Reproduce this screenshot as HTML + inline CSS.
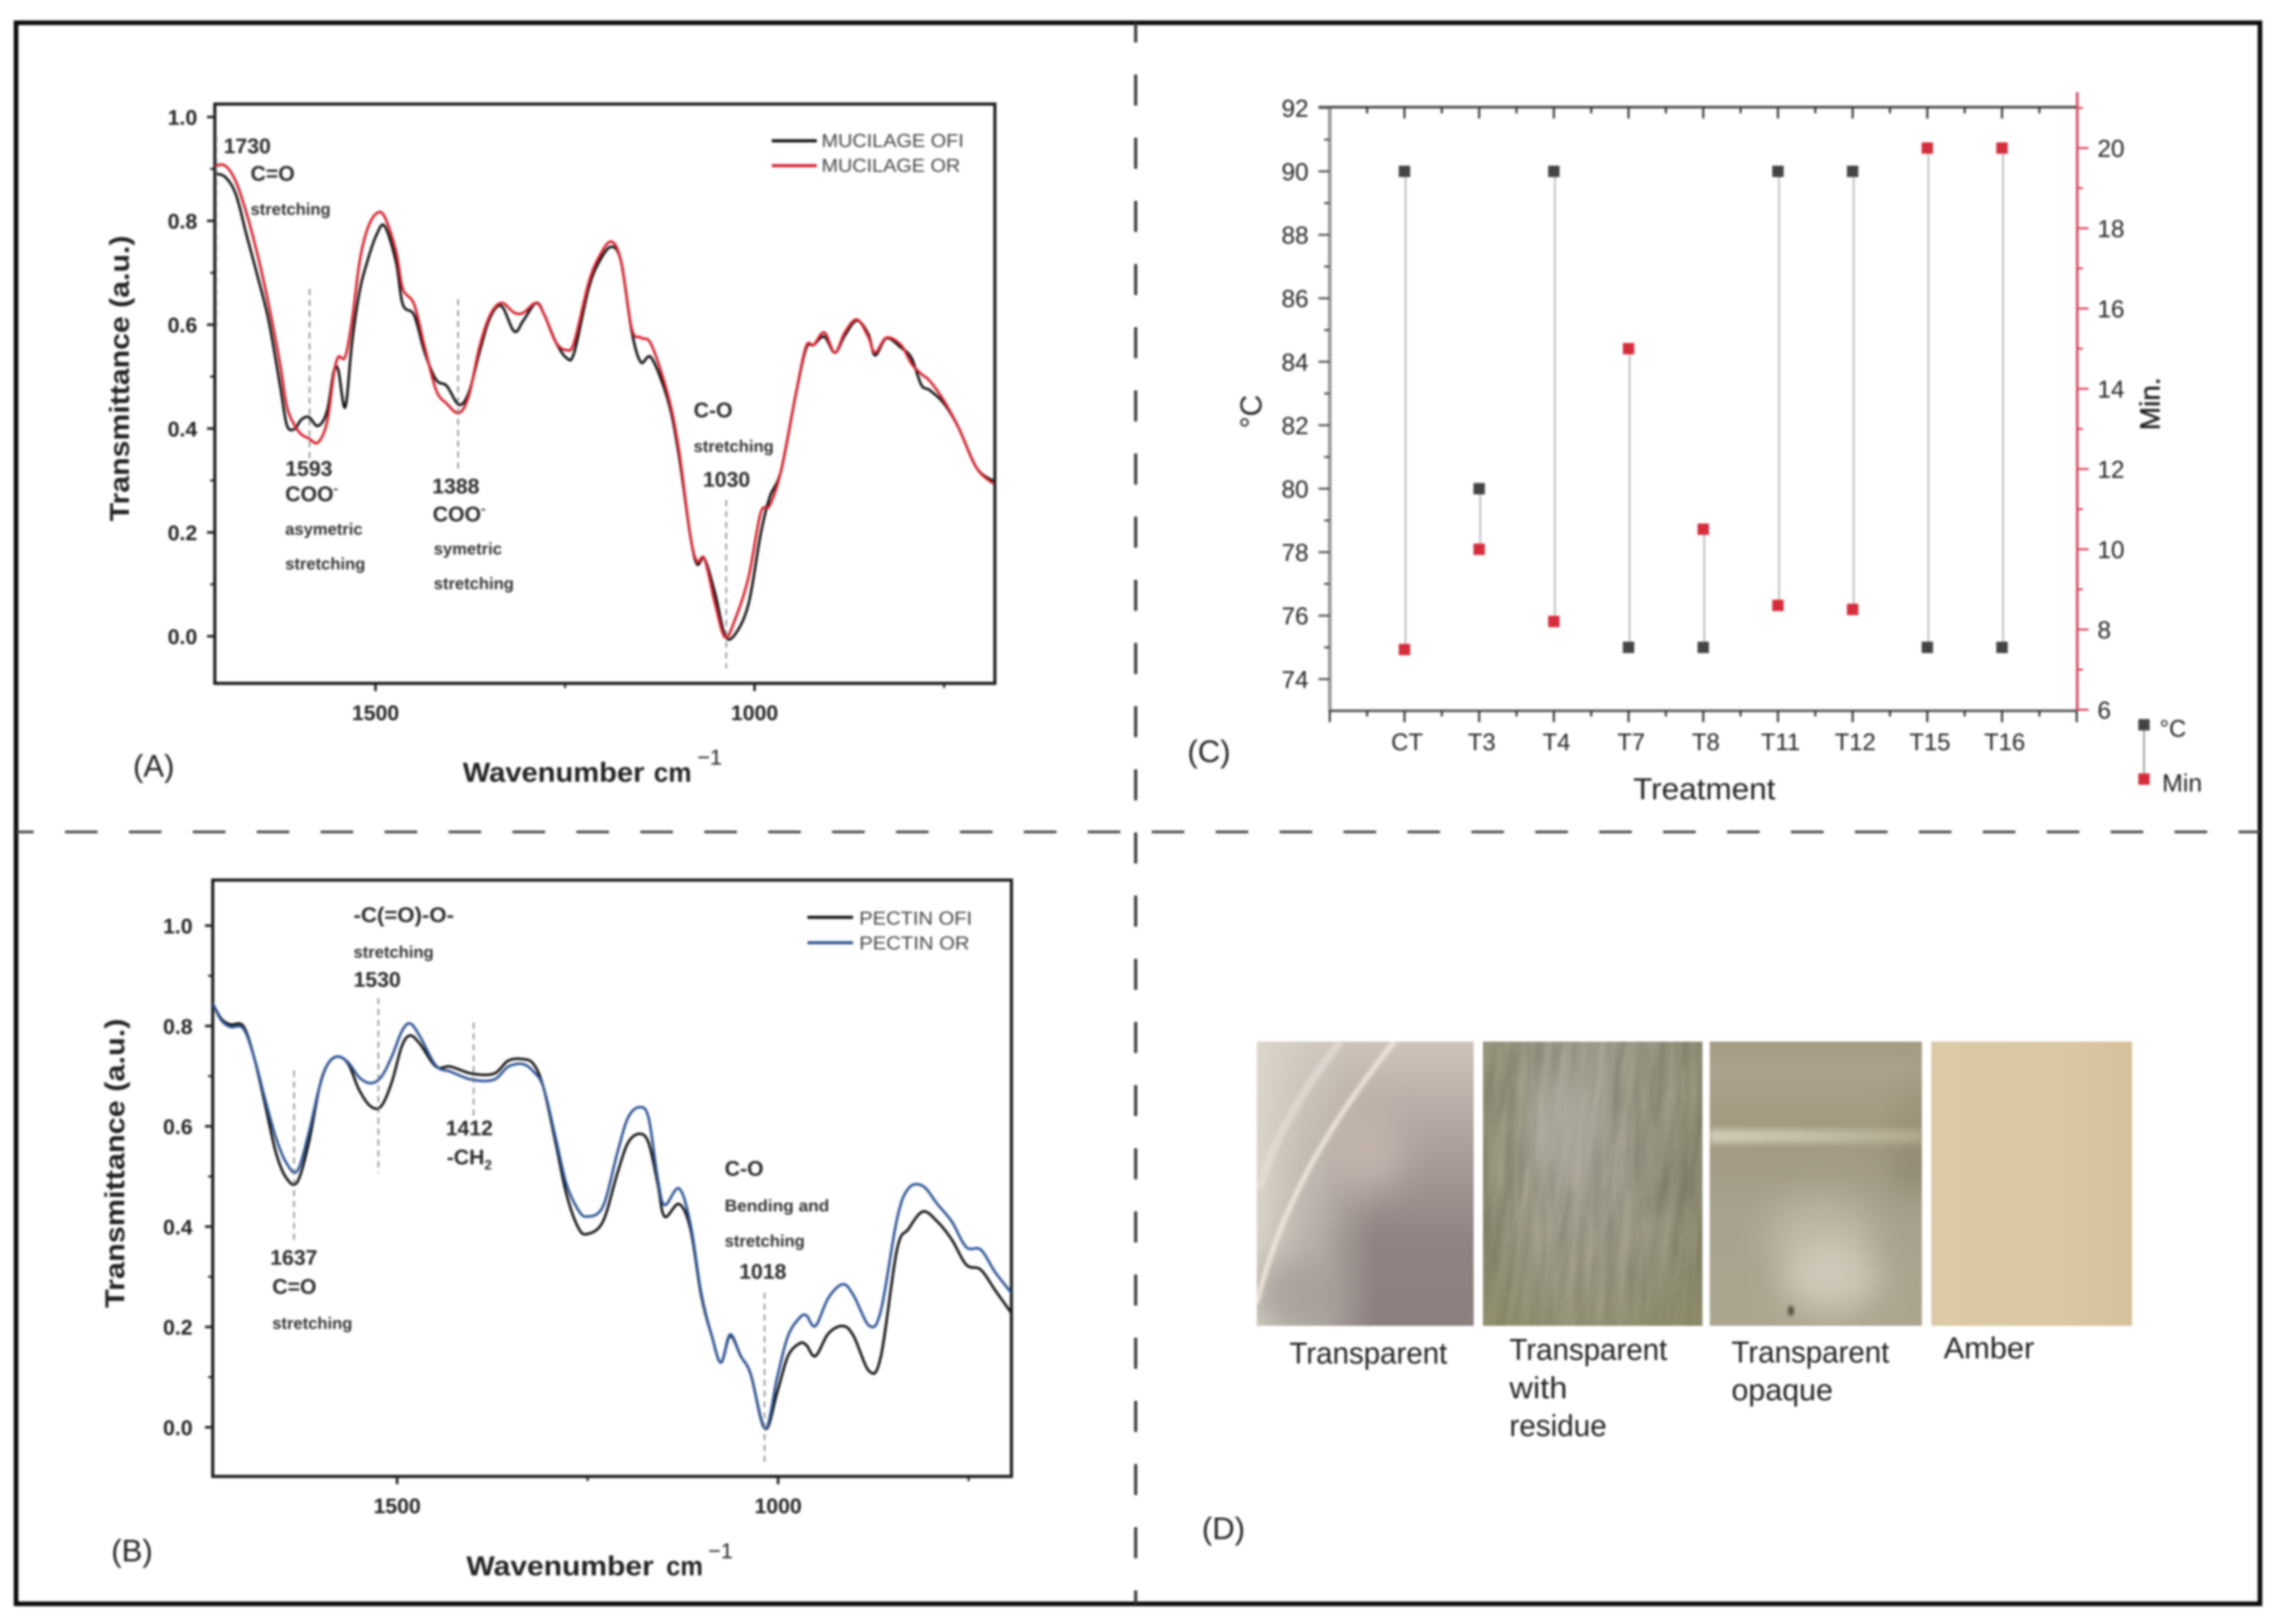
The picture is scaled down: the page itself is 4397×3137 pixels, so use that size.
<!DOCTYPE html>
<html lang="en">
<head>
<meta charset="utf-8">
<title>FTIR spectra, treatment conditions and film appearance</title>
<style>
html,body{margin:0;padding:0;background:#fff;}
body{width:4397px;height:3137px;overflow:hidden;}
svg{display:block;filter:blur(2px);}
text{font-family:"Liberation Sans",sans-serif;fill:#222;}
.ann{font-weight:bold;font-size:41px;fill:#2a2a2a;}
.small{font-weight:bold;font-size:32px;fill:#333;}
.title{font-weight:bold;font-size:53px;fill:#222;}
.leg{font-size:36px;fill:#444;}
.plabel{font-size:60px;fill:#222;}
.ptext{font-size:58px;fill:#222;}
</style>
</head>
<body>
<svg id="fig" xmlns="http://www.w3.org/2000/svg" width="4397" height="3137" viewBox="0 0 4397 3137">
<defs>
<linearGradient id="g1" x1="0" y1="0" x2="0" y2="1">
<stop offset="0" stop-color="#cfc4ba"/><stop offset=".35" stop-color="#aea29d"/><stop offset=".7" stop-color="#8f8481"/><stop offset="1" stop-color="#8c807e"/>
</linearGradient>
<linearGradient id="g1b" x1="0" y1="0" x2="1" y2="0">
<stop offset="0" stop-color="#dcd7cb" stop-opacity=".95"/><stop offset=".3" stop-color="#d0cac0" stop-opacity=".55"/><stop offset=".55" stop-color="#c0b6ae" stop-opacity="0"/>
</linearGradient>
<linearGradient id="g2" x1="0" y1="0" x2="1" y2="0">
<stop offset="0" stop-color="#8a8a6f"/><stop offset=".3" stop-color="#a3a093"/><stop offset=".6" stop-color="#a09d90"/><stop offset="1" stop-color="#87876c"/>
</linearGradient>
<linearGradient id="g2b" x1="0" y1="0" x2="0" y2="1">
<stop offset="0" stop-color="#8e8c78" stop-opacity=".2"/><stop offset=".5" stop-color="#8e8c78" stop-opacity="0"/><stop offset="1" stop-color="#87875f" stop-opacity=".55"/>
</linearGradient>
<linearGradient id="g3" x1="0" y1="0" x2="0" y2="1">
<stop offset="0" stop-color="#a49b83"/><stop offset=".1" stop-color="#aba38d"/><stop offset=".3" stop-color="#a39a81"/><stop offset=".4" stop-color="#a39b84"/><stop offset=".6" stop-color="#a8a18e"/><stop offset="1" stop-color="#aca690"/>
</linearGradient>
<linearGradient id="g3s" x1="0" y1="0" x2="1" y2="0">
<stop offset="0" stop-color="#d2cdb8"/><stop offset=".5" stop-color="#c4bea8"/><stop offset="1" stop-color="#b0a98e"/>
</linearGradient>
<linearGradient id="g4" x1="0" y1="0" x2="1" y2="0">
<stop offset="0" stop-color="#dccaa7"/><stop offset=".6" stop-color="#dbc8a4"/><stop offset="1" stop-color="#d6c19d"/>
</linearGradient>
<filter id="bl30" x="-150%" y="-150%" width="400%" height="400%"><feGaussianBlur stdDeviation="32"/></filter>
<filter id="bl3" x="-20%" y="-20%" width="140%" height="140%"><feGaussianBlur stdDeviation="3"/></filter>
<filter id="bl6" x="-5%" y="-100%" width="110%" height="300%"><feGaussianBlur stdDeviation="6"/></filter>
<filter id="streak" x="0" y="0" width="100%" height="100%" color-interpolation-filters="sRGB">
<feTurbulence type="fractalNoise" baseFrequency="0.05 0.006" numOctaves="3" seed="7"/>
<feColorMatrix type="matrix" values="1.1 0 0 0 0.03  1.05 0 0 0 0.03  0.95 0 0 0 0  0 0 0 0 1"/>
</filter>
<clipPath id="clipA"><rect x="415" y="201" width="1507" height="1119"/></clipPath>
<clipPath id="clipB"><rect x="411" y="1700" width="1543" height="1152"/></clipPath>
<clipPath id="cp1"><rect x="2428" y="2012" width="419" height="549"/></clipPath>
<clipPath id="cp2"><rect x="2865" y="2012" width="424" height="549"/></clipPath>
<clipPath id="cp3"><rect x="3303" y="2012" width="410" height="549"/></clipPath>
</defs>

<rect x="0" y="0" width="4397" height="3137" fill="#fff"/>
<rect x="31" y="44" width="4335" height="3054" fill="none" stroke="#0c0c0c" stroke-width="9"/>
<line x1="31" y1="1607" x2="4366" y2="1607" stroke="#444" stroke-width="5" stroke-dasharray="63 60.5" stroke-dashoffset="29"/>
<line x1="2194" y1="44" x2="2194" y2="3098" stroke="#3a3a3a" stroke-width="6" stroke-dasharray="60 62" stroke-dashoffset="22"/>

<g id="panelA">
<rect x="415" y="201" width="1507" height="1119" fill="#fff" stroke="#1a1a1a" stroke-width="6"/>
<g id="marksA" clip-path="url(#clipA)"></g>
<g id="axesA"></g>
<g stroke="#777" stroke-width="2.5" stroke-dasharray="12 9">
<line x1="418" y1="263" x2="418" y2="640"/>
<line x1="598" y1="558" x2="598" y2="888"/>
<line x1="885" y1="578" x2="885" y2="909"/>
<line x1="1403" y1="966" x2="1403" y2="1291"/>
</g>
<text class="ann" x="432" y="296">1730</text>
<text class="ann" x="484" y="349">C=O</text>
<text class="small" x="484" y="415">stretching</text>
<text class="ann" x="551" y="919">1593</text>
<text class="ann" x="551" y="968">COO<tspan font-size="26" dy="-16">-</tspan></text>
<text class="small" x="551" y="1033">asymetric</text>
<text class="small" x="551" y="1100">stretching</text>
<text class="ann" x="835" y="953">1388</text>
<text class="ann" x="836" y="1007">COO<tspan font-size="26" dy="-16">-</tspan></text>
<text class="small" x="838" y="1071">symetric</text>
<text class="small" x="838" y="1138">stretching</text>
<text class="ann" x="1340" y="806">C-O</text>
<text class="small" x="1340" y="873">stretching</text>
<text class="ann" x="1358" y="940">1030</text>
<line x1="1491" y1="272" x2="1578" y2="272" stroke="#111" stroke-width="6"/>
<text class="leg" x="1587" y="284" textLength="275" lengthAdjust="spacingAndGlyphs">MUCILAGE OFI</text>
<line x1="1491" y1="320" x2="1578" y2="320" stroke="#d8222f" stroke-width="6"/>
<text class="leg" x="1587" y="332" textLength="268" lengthAdjust="spacingAndGlyphs">MUCILAGE OR</text>
<text class="title" transform="translate(249,731) rotate(-90)" text-anchor="middle" textLength="552" lengthAdjust="spacingAndGlyphs">Transmittance (a.u.)</text>
<text class="title" x="894" y="1510" textLength="351" lengthAdjust="spacingAndGlyphs">Wavenumber</text>
<text x="1263" y="1510" font-size="52" font-weight="bold" textLength="73" lengthAdjust="spacingAndGlyphs">cm</text>
<text x="1347" y="1477" font-size="42">−1</text>
<text class="plabel" x="257" y="1500">(A)</text>
</g>

<g id="panelB">
<rect x="411" y="1700" width="1543" height="1152" fill="#fff" stroke="#1a1a1a" stroke-width="6"/>
<g id="marksB" clip-path="url(#clipB)"></g>
<g id="axesB"></g>
<g stroke="#777" stroke-width="2.5" stroke-dasharray="12 9">
<line x1="568" y1="2068" x2="568" y2="2404"/>
<line x1="731" y1="1928" x2="731" y2="2266"/>
<line x1="915" y1="1975" x2="915" y2="2159"/>
<line x1="1477" y1="2497" x2="1477" y2="2825"/>
</g>
<text class="ann" x="683" y="1781" textLength="194" lengthAdjust="spacingAndGlyphs">-C(=O)-O-</text>
<text class="small" x="683" y="1850">stretching</text>
<text class="ann" x="683" y="1906">1530</text>
<text class="ann" x="522" y="2443">1637</text>
<text class="ann" x="526" y="2499">C=O</text>
<text class="small" x="526" y="2567">stretching</text>
<text class="ann" x="861" y="2193">1412</text>
<text class="ann" x="863" y="2249">-CH<tspan font-size="26" dy="10">2</tspan></text>
<text class="ann" x="1400" y="2271">C-O</text>
<text class="small" x="1400" y="2340" textLength="202" lengthAdjust="spacingAndGlyphs">Bending and</text>
<text class="small" x="1400" y="2408">stretching</text>
<text class="ann" x="1428" y="2470">1018</text>
<line x1="1560" y1="1772" x2="1648" y2="1772" stroke="#111" stroke-width="6"/>
<text class="leg" x="1660" y="1786" textLength="218" lengthAdjust="spacingAndGlyphs">PECTIN OFI</text>
<line x1="1560" y1="1821" x2="1648" y2="1821" stroke="#2f5597" stroke-width="6"/>
<text class="leg" x="1660" y="1834" textLength="213" lengthAdjust="spacingAndGlyphs">PECTIN OR</text>
<text class="title" transform="translate(240,2247) rotate(-90)" text-anchor="middle" textLength="559" lengthAdjust="spacingAndGlyphs">Transmittance (a.u.)</text>
<text class="title" x="901" y="3043" textLength="362" lengthAdjust="spacingAndGlyphs">Wavenumber</text>
<text x="1287" y="3043" font-size="52" font-weight="bold" textLength="71" lengthAdjust="spacingAndGlyphs">cm</text>
<text x="1368" y="3010" font-size="42">−1</text>
<text class="plabel" x="215" y="3016">(B)</text>
</g>

<g id="panelC">
<g id="axesC"></g>
<g id="marksC"></g>
<text transform="translate(2437,795) rotate(-90)" text-anchor="middle" font-size="58" fill="#333">°C</text>
<text transform="translate(4172,780) rotate(-90)" text-anchor="middle" font-size="54" stroke="#222" stroke-width="1">Min.</text>
<text x="3155" y="1544" font-size="58" textLength="275" lengthAdjust="spacingAndGlyphs" fill="#333">Treatment</text>
<line x1="4142" y1="1400" x2="4142" y2="1505" stroke="#aaa" stroke-width="4"/>
<rect x="4131" y="1389" width="22" height="22" fill="#444"/>
<rect x="4131" y="1494" width="22" height="22" fill="#d52d3c"/>
<text x="4172" y="1423" font-size="46">°C</text>
<text x="4177" y="1529" font-size="48">Min</text>
<text class="plabel" x="2294" y="1472">(C)</text>
</g>

<g id="panelD">
<g clip-path="url(#cp1)">
<rect x="2428" y="2012" width="419" height="549" fill="url(#g1)"/>
<rect x="2428" y="2012" width="419" height="549" fill="url(#g1b)"/>
<ellipse cx="2644" cy="2227" rx="70" ry="80" fill="#cabcb4" opacity=".7" filter="url(#bl30)"/>
<ellipse cx="2500" cy="2500" rx="90" ry="70" fill="#9f9a94" opacity=".7" filter="url(#bl30)"/>
<path d="M2589 2012C2520 2100 2460 2200 2433 2296" stroke="#e8e2da" stroke-width="16" fill="none" opacity=".6" filter="url(#bl3)"/>
<path d="M2694 2012C2600 2130 2480 2300 2428 2518" stroke="#f3eadf" stroke-width="10" fill="none" opacity=".85" filter="url(#bl3)"/>
</g>
<g clip-path="url(#cp2)">
<rect x="2865" y="2012" width="424" height="549" fill="url(#g2)"/>
<rect x="2835" y="1990" width="484" height="600" filter="url(#streak)" opacity=".2" transform="rotate(5 3077 2286)"/>
<rect x="2865" y="2012" width="424" height="549" fill="url(#g2b)"/>
<ellipse cx="3020" cy="2180" rx="70" ry="100" fill="#b5b1a8" opacity=".6" filter="url(#bl30)"/>
</g>
<g clip-path="url(#cp3)">
<rect x="3303" y="2012" width="410" height="549" fill="url(#g3)"/>
<ellipse cx="3710" cy="2150" rx="40" ry="70" fill="#938a6f" opacity=".55" filter="url(#bl30)"/>
<ellipse cx="3700" cy="2255" rx="45" ry="50" fill="#878067" opacity=".75" filter="url(#bl30)"/>
<rect x="3303" y="2182" width="410" height="26" fill="url(#g3s)" filter="url(#bl6)"/>
<ellipse cx="3515" cy="2380" rx="105" ry="70" fill="#c3bdac" opacity=".7" filter="url(#bl30)"/>
<ellipse cx="3535" cy="2465" rx="95" ry="70" fill="#d6cfc0" opacity=".85" filter="url(#bl30)"/>
<ellipse cx="3460" cy="2532" rx="6" ry="10" fill="#55503f" filter="url(#bl3)"/>
</g>
<rect x="3731" y="2012" width="388" height="549" fill="url(#g4)"/>
<text class="ptext" x="2491" y="2634" textLength="305" lengthAdjust="spacingAndGlyphs">Transparent</text>
<text class="ptext" x="2916" y="2627" textLength="305" lengthAdjust="spacingAndGlyphs">Transparent</text>
<text class="ptext" x="2916" y="2701" textLength="112" lengthAdjust="spacingAndGlyphs">with</text>
<text class="ptext" x="2916" y="2774" textLength="188" lengthAdjust="spacingAndGlyphs">residue</text>
<text class="ptext" x="3345" y="2632" textLength="305" lengthAdjust="spacingAndGlyphs">Transparent</text>
<text class="ptext" x="3345" y="2705" textLength="196" lengthAdjust="spacingAndGlyphs">opaque</text>
<text class="ptext" x="3755" y="2624" textLength="175" lengthAdjust="spacingAndGlyphs">Amber</text>
<text class="plabel" x="2322" y="2973">(D)</text>
</g>
</svg>

<script>
// Panel A data: mucilage FTIR spectra
const wavenumbersA = [1712,1698,1684,1670,1655,1641,1626,1617,1607,1598,1588,1576,1564,1555,1549,1540,1531,1521,1511,1499,1488,1473,1464,1449,1435,1420,1406,1390,1377,1363,1349,1334,1317,1305,1288,1277,1262,1248,1238,1219,1205,1189,1176,1162,1150,1136,1114,1100,1085,1076,1066,1052,1039,1026,1008,992,980,965,946,932,922,908,894,881,865,850,841,826,807,793,780,769,750,731,707,685];
const mucilageOfi = [.891,.884,.850,.772,.690,.608,.484,.407,.399,.417,.422,.405,.433,.510,.512,.441,.566,.664,.721,.772,.790,.721,.639,.618,.546,.494,.482,.446,.469,.546,.613,.636,.587,.608,.642,.618,.566,.536,.546,.669,.721,.750,.721,.587,.528,.536,.453,.350,.196,.139,.149,.082,.002,.003,.062,.196,.268,.319,.463,.554,.561,.577,.546,.579,.608,.582,.541,.574,.556,.536,.484,.474,.448,.402,.324,.299];
const mucilageOr = [.906,.906,.875,.814,.731,.639,.525,.443,.407,.389,.381,.373,.412,.505,.538,.538,.608,.721,.783,.814,.808,.742,.669,.639,.556,.474,.448,.430,.463,.556,.618,.642,.623,.623,.642,.618,.566,.551,.566,.680,.731,.760,.721,.592,.575,.561,.463,.360,.196,.144,.149,.062,-.002,.031,.113,.237,.252,.319,.463,.558,.561,.585,.546,.585,.610,.577,.546,.575,.561,.525,.505,.492,.453,.402,.324,.294];

// Panel B data: pectin FTIR spectra
const wavenumbersB = [1742,1731,1719,1702,1688,1674,1659,1645,1631,1616,1602,1591,1578,1564,1550,1535,1521,1507,1494,1483,1470,1449,1430,1402,1373,1354,1335,1321,1308,1292,1278,1263,1251,1230,1211,1197,1182,1170,1158,1149,1130,1115,1101,1087,1075,1063,1049,1036,1017,1001,987,972,963,951,934,915,901,880,865,844,829,810,791,772,753,734,715,694];
const pectinOfi = [.845,.815,.803,.800,.739,.648,.547,.496,.489,.567,.678,.724,.739,.724,.673,.640,.640,.688,.759,.781,.764,.719,.719,.705,.705,.731,.734,.724,.678,.567,.466,.400,.385,.410,.506,.567,.585,.567,.486,.420,.445,.395,.263,.182,.129,.182,.142,.106,-.003,.071,.142,.167,.164,.142,.187,.202,.182,.111,.142,.354,.395,.430,.410,.374,.324,.314,.273,.228];
const pectinOr = [.845,.812,.798,.795,.739,.658,.577,.526,.511,.587,.678,.724,.739,.727,.698,.686,.698,.739,.789,.805,.779,.721,.709,.693,.693,.719,.724,.709,.678,.577,.486,.435,.420,.440,.547,.617,.638,.617,.496,.443,.476,.405,.268,.182,.129,.185,.142,.106,-.003,.101,.182,.218,.223,.202,.258,.285,.263,.202,.233,.415,.476,.481,.445,.410,.359,.354,.309,.268];

// Shared FTIR tick data
const ftirYTicks = [0, 0.2, 0.4, 0.6, 0.8, 1.0];
const ftirYMinor = [0.1, 0.3, 0.5, 0.7, 0.9];
const ftirXTicks = [1500, 1000];
const ftirXMinor = [1250, 750];

// Panel C data: treatment conditions
const treatments = ['CT','T3','T4','T7','T8','T11','T12','T15','T16'];
const temperatureC = [90,80,90,75,75,90,90,75,75];
const timeMin = [7.5,10,8.2,15,10.5,8.6,8.5,20,20];
const tempTicks = [74,76,78,80,82,84,86,88,90,92];
const minTicks = [6,8,10,12,14,16,18,20];

const NS = 'http://www.w3.org/2000/svg';
function mk(tag, attrs, parent, txt) {
  const el = document.createElementNS(NS, tag);
  for (const k in attrs) el.setAttribute(k, attrs[k]);
  if (txt !== undefined) el.textContent = txt;
  parent.appendChild(el);
  return el;
}
function smoothPath(pts) {
  let d = 'M' + pts[0][0].toFixed(1) + ' ' + pts[0][1].toFixed(1);
  for (let i = 0; i < pts.length - 1; i++) {
    const p0 = pts[Math.max(0, i - 1)], p1 = pts[i], p2 = pts[i + 1], p3 = pts[Math.min(pts.length - 1, i + 2)];
    const c1x = p1[0] + (p2[0] - p0[0]) / 6, c1y = p1[1] + (p2[1] - p0[1]) / 6;
    const c2x = p2[0] - (p3[0] - p1[0]) / 6, c2y = p2[1] - (p3[1] - p1[1]) / 6;
    d += 'C' + c1x.toFixed(1) + ' ' + c1y.toFixed(1) + ' ' + c2x.toFixed(1) + ' ' + c2y.toFixed(1) + ' ' + p2[0].toFixed(1) + ' ' + p2[1].toFixed(1);
  }
  return d;
}

function drawFtir(cfg) {
  const axes = document.getElementById(cfg.axesId);
  const marks = document.getElementById(cfg.marksId);
  cfg.series.forEach(function (s) {
    const pts = cfg.wn.map(function (w, i) { return [cfg.x(w), cfg.y(s.values[i])]; });
    const line = mk('path', { d: smoothPath(pts), fill: 'none', stroke: s.color, 'stroke-width': 5, 'stroke-linejoin': 'round' }, marks);
    
    
  });
  ftirYTicks.forEach(function (v) {
    const t = mk('line', { x1: cfg.left - 15, x2: cfg.left, y1: cfg.y(v), y2: cfg.y(v), stroke: '#222', 'stroke-width': 5 }, axes);
    
    
    const lb = mk('text', { x: cfg.labelRight, y: cfg.y(v) + 15, 'text-anchor': 'end', 'font-size': 41, 'font-weight': 'bold', fill: '#333' }, axes, v.toFixed(1));
    
    
  });
  ftirYMinor.forEach(function (v) {
    const t = mk('line', { x1: cfg.left - 9, x2: cfg.left, y1: cfg.y(v), y2: cfg.y(v), stroke: '#222', 'stroke-width': 4 }, axes);
    
    
  });
  ftirXTicks.forEach(function (v) {
    const t = mk('line', { x1: cfg.x(v), x2: cfg.x(v), y1: cfg.bottom, y2: cfg.bottom + 15, stroke: '#222', 'stroke-width': 5 }, axes);
    
    
    const lb = mk('text', { x: cfg.x(v), y: cfg.labelBase, 'text-anchor': 'middle', 'font-size': 41, 'font-weight': 'bold', fill: '#333' }, axes, String(v));
    
    
  });
  ftirXMinor.forEach(function (v) {
    const t = mk('line', { x1: cfg.x(v), x2: cfg.x(v), y1: cfg.bottom, y2: cfg.bottom + 9, stroke: '#222', 'stroke-width': 4 }, axes);
    
    
  });
}

drawFtir({
  axesId: 'axesA', marksId: 'marksA', wn: wavenumbersA, left: 415, bottom: 1320, labelRight: 381, labelBase: 1391,
  x: function (w) { return 415 + (1712 - w) * 1.4645; },
  y: function (t) { return 1229 - t * 1003; },
  series: [
    { name: 'line-mucilage-ofi', values: mucilageOfi, color: '#141414' },
    { name: 'line-mucilage-or', values: mucilageOr, color: '#d8222f' }
  ]
});
drawFtir({
  axesId: 'axesB', marksId: 'marksB', wn: wavenumbersB, left: 411, bottom: 2852, labelRight: 372, labelBase: 2923,
  x: function (w) { return 411 + (1742 - w) * 1.472; },
  y: function (t) { return 2757 - t * 969; },
  series: [
    { name: 'line-pectin-ofi', values: pectinOfi, color: '#141414' },
    { name: 'line-pectin-or', values: pectinOr, color: '#2f5597' }
  ]
});

// Panel C axes and marks
const xC = function (i) { return 2569 + (i + 1) * 144.3; };
const yTemp = function (t) { return 331 + (90 - t) * 61.3; };
const yMin = function (m) { return 1371 - (m - 6) * 77.5; };
const axesC = document.getElementById('axesC');
const marksC = document.getElementById('marksC');

const leftAxis = mk('line', { x1: 2569, x2: 2569, y1: 207, y2: 1374, stroke: '#999', 'stroke-width': 7 }, axesC);


const topAxis = mk('line', { x1: 2547, x2: 4013, y1: 207, y2: 207, stroke: '#444', 'stroke-width': 5 }, axesC);


const bottomAxis = mk('line', { x1: 2569, x2: 4013, y1: 1373, y2: 1373, stroke: '#555', 'stroke-width': 5 }, axesC);


const rightAxis = mk('line', { x1: 4013, x2: 4013, y1: 178, y2: 1373, stroke: '#d8485f', 'stroke-width': 5 }, axesC);



tempTicks.forEach(function (v) {
  const t = mk('line', { x1: 2547, x2: 2569, y1: yTemp(v), y2: yTemp(v), stroke: '#555', 'stroke-width': 4 }, axesC);
  
  
  const lb = mk('text', { x: 2528, y: yTemp(v) + 17, 'text-anchor': 'end', 'font-size': 47, fill: '#666' }, axesC, String(v));
  
  
  if (v < 92) {
    const m = mk('line', { x1: 2558, x2: 2569, y1: yTemp(v + 1), y2: yTemp(v + 1), stroke: '#555', 'stroke-width': 4 }, axesC);
    
    
  }
});
minTicks.forEach(function (v) {
  const t = mk('line', { x1: 4013, x2: 4035, y1: yMin(v), y2: yMin(v), stroke: '#d8485f', 'stroke-width': 4 }, axesC);
  
  
  const lb = mk('text', { x: 4052, y: yMin(v) + 17, 'font-size': 47, fill: '#df5d6c' }, axesC, String(v));
  
  
  const m = mk('line', { x1: 4013, x2: 4024, y1: yMin(v + 1), y2: yMin(v + 1), stroke: '#d8485f', 'stroke-width': 4 }, axesC);
  
  
});
for (let i = -1; i <= treatments.length; i++) {
  const major = mk('line', { x1: xC(i), x2: xC(i), y1: 1373, y2: 1395, stroke: '#333', 'stroke-width': 4 }, axesC);
  
  
  if (i >= 0 && i < treatments.length) {
    const top = mk('line', { x1: xC(i), x2: xC(i), y1: 207, y2: 229, stroke: '#333', 'stroke-width': 4 }, axesC);
    
    
  }
  if (i < treatments.length) {
    const mb = mk('line', { x1: xC(i + 0.5), x2: xC(i + 0.5), y1: 1373, y2: 1384, stroke: '#333', 'stroke-width': 4 }, axesC);
    
    
    const mt = mk('line', { x1: xC(i + 0.5), x2: xC(i + 0.5), y1: 207, y2: 219, stroke: '#333', 'stroke-width': 4 }, axesC);
    
    
  }
}
treatments.forEach(function (name, i) {
  const lb = mk('text', { x: xC(i) + 5, y: 1449, 'text-anchor': 'middle', 'font-size': 46, fill: '#444' }, axesC, name);
  
  
  const stem = mk('line', { x1: xC(i) + 2, x2: xC(i) + 2, y1: yTemp(temperatureC[i]), y2: yMin(timeMin[i]), stroke: '#bbb', 'stroke-width': 3.5 }, marksC);
  
  
});
treatments.forEach(function (name, i) {
  const a = mk('rect', { x: xC(i) - 11, y: yTemp(temperatureC[i]) - 11, width: 22, height: 22, fill: '#444' }, marksC);
  
  
  const b = mk('rect', { x: xC(i) - 11, y: yMin(timeMin[i]) - 11, width: 22, height: 22, fill: '#d52d3c' }, marksC);
  
  
});
</script>
</body>
</html>
